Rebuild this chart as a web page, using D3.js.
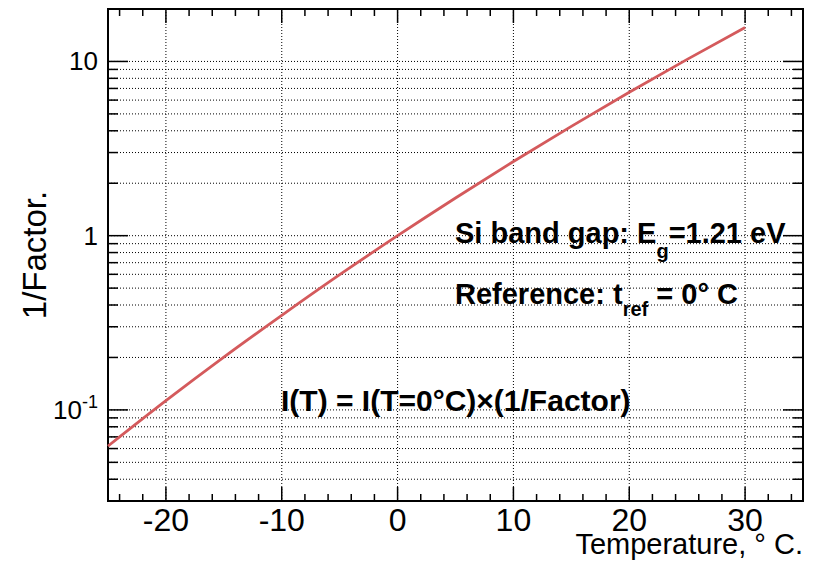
<!DOCTYPE html>
<html lang="en">
<head>
<meta charset="UTF-8">
<title>1/Factor vs Temperature</title>
<script src="https://d3js.org/d3.v7.min.js"></script>
<style>
    body { margin: 0; background: #fff; }
    svg text { font-family: "Liberation Sans", Arial, Helvetica, sans-serif; fill: #000; }
    .grid line { stroke: #000; stroke-width: 1; stroke-dasharray: 1,2; }
    .note { font-weight: bold; font-size: 29px; }
</style>
</head>
<body>
<div id="chart"></div>
<script>
// temperature in deg C
const temps = [-25, -20, -15, -10, -5, 0, 5, 10, 15, 20, 25, 30];
const invFactor = [0.062, 0.113, 0.201, 0.349, 0.597, 1.0, 1.646, 2.664, 4.24, 6.65, 10.28, 15.68];

const xMajor = [-20, -10, 0, 10, 20, 30];
const xMinor = d3.range(-24, 35, 2);
const yMajor = [0.1, 1, 10];
const yMajorLabels = ["10^-1", "1", "10"];

const W = 815, H = 563;
const margin = {top: 9, right: 12, bottom: 62, left: 108};
const iw = W - margin.left - margin.right;
const ih = H - margin.top - margin.bottom;

const svg = d3.select("#chart").append("svg")
    .attr("width", W).attr("height", H);

const g = svg.append("g").attr("transform", `translate(${margin.left},${margin.top})`);

const x = d3.scaleLinear().domain([-25, 35]).range([0, iw]);
const y = d3.scaleLog().domain([0.03, 20]).range([ih, 0]);

// all log ticks inside the range (major + minor)
const yAll = [];
[0.01, 0.1, 1, 10].forEach(d => {
    for (let k = 1; k <= 9; k++) {
        const v = +(k * d).toPrecision(3);
        if (v >= 0.03 && v < 20) yAll.push(v);
    }
});
const isMajor = v => yMajor.includes(v);

// grid
const grid = g.append("g").attr("class", "grid");
grid.selectAll(".gx").data(xMajor).enter().append("line")
    .attr("x1", d => x(d)).attr("x2", d => x(d))
    .attr("y1", 0).attr("y2", ih);
grid.selectAll(".gy").data(yAll).enter().append("line")
    .attr("x1", 0).attr("x2", iw)
    .attr("y1", d => y(d)).attr("y2", d => y(d));

// ticks
const ticks = g.append("g").attr("stroke", "#000").attr("stroke-width", 1.5);
xMinor.forEach(v => {
    const len = xMajor.includes(v) ? 14 : 7;
    ticks.append("line").attr("x1", x(v)).attr("x2", x(v)).attr("y1", ih).attr("y2", ih - len);
    ticks.append("line").attr("x1", x(v)).attr("x2", x(v)).attr("y1", 0).attr("y2", len);
});
yAll.forEach(v => {
    const len = isMajor(v) ? 20 : 10;
    ticks.append("line").attr("x1", 0).attr("x2", len).attr("y1", y(v)).attr("y2", y(v));
    ticks.append("line").attr("x1", iw).attr("x2", iw - len).attr("y1", y(v)).attr("y2", y(v));
});

// frame
g.append("rect").attr("width", iw).attr("height", ih)
    .attr("fill", "none").attr("stroke", "#000").attr("stroke-width", 2);

// x tick labels
g.selectAll(".xl").data(xMajor).enter().append("text")
    .attr("x", d => x(d)).attr("y", ih + 30)
    .attr("text-anchor", "middle").style("font-size", "32px")
    .text(d => d);

// y tick labels
yMajor.forEach((v, i) => {
    const lab = yMajorLabels[i];
    const t = g.append("text").attr("x", -10).attr("y", y(v) + 9)
        .attr("text-anchor", "end").style("font-size", "26px");
    if (lab.includes("^")) {
        const [b, e] = lab.split("^");
        t.append("tspan").text(b);
        t.append("tspan").attr("dy", -11).style("font-size", "18px").text(e);
    } else {
        t.text(lab);
    }
});

// axis titles
svg.append("text")
    .attr("transform", `translate(46,${margin.top + ih / 2}) rotate(-90)`)
    .attr("text-anchor", "middle").style("font-size", "33px")
    .text("1/Factor.");
svg.append("text")
    .attr("x", W - 12).attr("y", 554)
    .attr("text-anchor", "end").style("font-size", "29px")
    .text("Temperature, \u00b0 C.");

// curve
const pts = temps.map((t, i) => [t, invFactor[i]]);
const line = d3.line()
    .x(d => x(d[0])).y(d => y(d[1]))
    .curve(d3.curveMonotoneX);
g.append("path").datum(pts)
    .attr("d", line)
    .attr("fill", "none")
    .attr("stroke", "#d45a5c")
    .attr("stroke-width", 2.8);

// annotations
const n1 = svg.append("text").attr("class", "note").attr("x", 455).attr("y", 243);
n1.append("tspan").text("Si band gap: E");
n1.append("tspan").attr("dy", 15).style("font-size", "20px").text("g");
n1.append("tspan").attr("dy", -15).text("=1.21 eV");

const n2 = svg.append("text").attr("class", "note").attr("x", 455).attr("y", 304);
n2.append("tspan").text("Reference: t");
n2.append("tspan").attr("dy", 12).style("font-size", "20px").text("ref");
n2.append("tspan").attr("dy", -12).text(" = 0\u00b0 C");

svg.append("text").attr("class", "note").attr("x", 281).attr("y", 411)
    .style("font-size", "30px")
    .text("I(T) = I(T=0\u00b0C)\u00d7(1/Factor)");
</script>
</body>
</html>
